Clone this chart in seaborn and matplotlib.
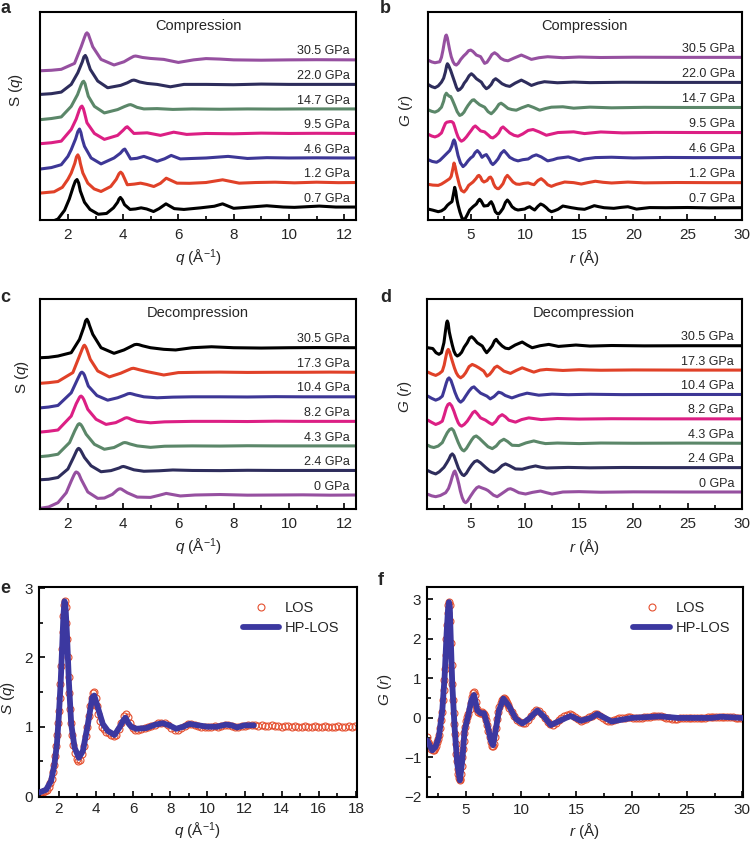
import numpy as np
import pandas as pd
import matplotlib
matplotlib.use("Agg")
import matplotlib.pyplot as plt
import seaborn as sns
from matplotlib.ticker import MultipleLocator

# structure factor S(q) and pair distribution G(r) under compression / decompression

PURPLE = "#9650a0"
NAVY = "#2e2d5c"
GREEN = "#5b8769"
PINK = "#dc1f84"
BLUE = "#3d3796"
RED = "#e04128"
BLACK = "#000000"
LOS_RED = "#e5502f"
HP_BLUE = "#3c38a0"

comp_labels = ["0.7 GPa", "1.2 GPa", "4.6 GPa", "9.5 GPa", "14.7 GPa", "22.0 GPa", "30.5 GPa"]
comp_colors = [BLACK, RED, BLUE, PINK, GREEN, NAVY, PURPLE]
decomp_labels = ["0 GPa", "2.4 GPa", "4.3 GPa", "8.2 GPa", "10.4 GPa", "17.3 GPa", "30.5 GPa"]
decomp_colors = [PURPLE, NAVY, GREEN, PINK, BLUE, RED, BLACK]

# ---- panel a: S(q), compression ----
q_a_07 = [1.0, 1.4, 1.64, 1.88, 2.05, 2.2, 2.27, 2.33, 2.39, 2.45, 2.6, 2.8, 3.1, 3.4, 3.65, 3.8, 3.85, 3.9, 3.97,
          4.05, 4.25, 4.45, 4.65, 4.85, 5.1, 5.3, 5.55, 5.85, 6.2, 6.8, 7.3, 7.6, 8.0, 8.6, 9.2, 9.8, 10.2, 11.1,
          11.7, 12.43]
s_a_07 = [0.06, 0.08, 0.25, 0.8, 1.5, 2.3, 2.62, 2.72, 2.5, 2.0, 1.3, 0.85, 0.55, 0.6, 0.95, 1.3, 1.5, 1.6, 1.45,
          1.15, 0.85, 0.88, 0.95, 0.88, 0.72, 0.9, 1.2, 0.9, 0.85, 0.95, 1.05, 1.2, 0.92, 1.0, 1.08, 1.0, 0.98, 1.06,
          1.0, 1.0]
q_a_12 = [1.0, 1.5, 1.8, 2.0, 2.12, 2.25, 2.31, 2.36, 2.41, 2.45, 2.54, 2.72, 2.95, 3.2, 3.55, 3.75, 3.85, 3.91,
          3.97, 4.05, 4.15, 4.4, 4.63, 4.85, 5.11, 5.35, 5.56, 5.95, 6.4, 7.0, 7.6, 8.2, 8.8, 9.5, 10.2, 11.0, 11.8,
          12.43]
s_a_12 = [0.34, 0.42, 0.7, 1.2, 1.59, 2.2, 2.6, 2.73, 2.55, 2.2, 1.6, 0.96, 0.6, 0.44, 0.75, 1.2, 1.55, 1.65, 1.55,
          1.25, 0.86, 0.9, 0.96, 0.88, 0.75, 0.95, 1.27, 0.96, 0.95, 1.0, 1.17, 0.96, 1.0, 1.02, 0.98, 1.02, 0.99,
          1.0]
q_a_46 = [1.0, 1.4, 1.76, 2.0, 2.12, 2.28, 2.36, 2.42, 2.47, 2.52, 2.6, 2.84, 3.2, 3.67, 3.9, 4.0, 4.06, 4.15,
          4.27, 4.5, 4.75, 5.0, 5.23, 5.5, 5.74, 6.07, 6.5, 7.0, 7.8, 8.5, 9.2, 10.0, 11.0, 12.0, 12.43]
s_a_46 = [0.31, 0.4, 0.58, 1.1, 1.52, 2.2, 2.65, 2.81, 2.6, 2.2, 1.73, 1.0, 0.63, 1.0, 1.3, 1.5, 1.56, 1.3, 0.94,
          0.98, 1.1, 0.95, 0.79, 0.95, 1.16, 0.94, 0.97, 1.0, 1.1, 0.97, 1.02, 1.0, 1.01, 1.0, 1.0]
q_a_95 = [1.0, 1.4, 1.76, 2.12, 2.3, 2.42, 2.47, 2.51, 2.56, 2.6, 2.69, 2.96, 3.32, 3.8, 4.0, 4.1, 4.15, 4.22,
          4.39, 4.87, 5.35, 5.83, 6.3, 7.0, 8.0, 9.0, 10.0, 11.0, 12.43]
s_a_95 = [0.36, 0.42, 0.52, 1.25, 1.9, 2.5, 2.66, 2.71, 2.55, 2.3, 1.67, 1.0, 0.63, 0.88, 1.2, 1.38, 1.42, 1.3,
          1.0, 1.04, 0.88, 1.08, 0.94, 1.0, 0.98, 1.02, 1.0, 1.01, 1.0]
q_a_147 = [1.0, 1.4, 1.76, 2.12, 2.35, 2.48, 2.53, 2.57, 2.62, 2.66, 2.74, 2.96, 3.32, 3.8, 4.05, 4.2, 4.27, 4.35,
           4.5, 4.75, 5.23, 5.8, 6.5, 7.5, 8.5, 9.5, 10.5, 11.5, 12.43]
s_a_147 = [0.33, 0.4, 0.5, 1.16, 1.9, 2.5, 2.68, 2.73, 2.58, 2.3, 1.79, 1.16, 0.75, 0.96, 1.15, 1.25, 1.27, 1.22,
           1.1, 1.0, 1.02, 0.97, 1.0, 0.98, 1.0, 0.99, 1.0, 1.0, 1.0]
q_a_220 = [1.0, 1.4, 1.76, 2.12, 2.36, 2.52, 2.58, 2.63, 2.68, 2.72, 2.81, 3.08, 3.44, 3.91, 4.15, 4.32, 4.39, 4.46,
           4.6, 4.87, 5.23, 5.71, 6.2, 7.0, 8.0, 9.0, 10.0, 11.0, 12.43]
s_a_220 = [0.375, 0.42, 0.52, 1.0, 1.73, 2.4, 2.72, 2.81, 2.65, 2.4, 1.94, 1.21, 0.79, 0.94, 1.1, 1.25, 1.27, 1.24,
           1.15, 1.06, 1.0, 0.85, 1.0, 1.0, 0.98, 1.02, 1.0, 1.0, 1.0]
q_a_305 = [1.0, 1.4, 1.76, 2.24, 2.48, 2.6, 2.65, 2.69, 2.74, 2.78, 2.9, 3.2, 3.67, 4.03, 4.25, 4.38, 4.45, 4.52,
           4.7, 4.99, 5.47, 6.0, 6.55, 7.0, 7.5, 8.0, 9.0, 10.0, 11.0, 12.43]
s_a_305 = [0.32, 0.35, 0.41, 0.78, 1.82, 2.4, 2.62, 2.69, 2.6, 2.4, 1.82, 1.03, 0.68, 0.88, 1.1, 1.22, 1.24, 1.22,
           1.15, 1.09, 1.03, 0.84, 1.0, 1.08, 1.05, 1.0, 0.98, 1.0, 1.01, 1.0]

# ---- panel b: G(r), compression ----
r_b_07 = [1.06, 1.5, 2.0, 2.3, 2.6, 2.85, 3.06, 3.27, 3.4, 3.52, 3.62, 3.72, 3.83, 4.0, 4.2, 4.44, 4.65, 4.9, 5.21,
          5.52, 5.7, 5.82, 5.95, 6.22, 6.58, 6.75, 6.89, 7.05, 7.27, 7.45, 7.58, 7.75, 7.98, 8.2, 8.38, 8.55, 8.81,
          9.1, 9.36, 9.7, 9.98, 10.2, 10.44, 10.65, 10.9, 11.2, 11.45, 11.7, 11.98, 12.2, 12.44, 12.7, 13.05, 13.5,
          14.3, 14.9, 15.5, 16.0, 16.4, 16.8, 17.3, 18.2, 18.9, 19.5, 20.3, 21.5, 23.0, 25.0, 27.0, 30.0]
g_b_07 = [-0.19, -0.35, -0.57, -0.45, -0.14, 0.35, 0.63, 0.86, 1.9, 2.91, 2.3, 1.2, 0.39, -0.6, -1.51, -1.7, -1.1,
          -0.33, 0.14, 0.53, 1.0, 1.2, 1.0, 0.24, 0.31, 0.65, 0.86, 0.4, -0.57, -0.85, -0.9, -0.6, -0.09, 0.75, 1.1,
          0.8, 0.14, -0.2, -0.33, -0.25, -0.19, 0.0, 0.14, -0.1, -0.33, 0.2, 0.53, 0.35, 0.0, -0.35, -0.57, -0.45,
          -0.23, 0.24, 0.0, -0.15, -0.23, 0.05, 0.29, 0.15, 0.0, -0.09, 0.05, 0.14, -0.2, 0.02, 0.0, 0.03, -0.02, 0.0]
r_b_12 = [1.06, 1.5, 2.0, 2.3, 2.6, 2.85, 3.06, 3.2, 3.34, 3.46, 3.56, 3.66, 3.77, 3.95, 4.14, 4.38, 4.6, 4.81, 5.21,
          5.5, 5.65, 5.76, 5.9, 6.05, 6.22, 6.5, 6.7, 6.83, 6.98, 7.12, 7.27, 7.45, 7.58, 7.75, 7.98, 8.2, 8.38, 8.55,
          8.9, 9.2, 9.5, 9.9, 10.3, 10.6, 10.84, 11.2, 11.5, 11.8, 12.1, 12.44, 12.9, 13.67, 14.5, 15.2, 15.8, 16.5,
          17.2, 18.0, 19.5, 21.0, 24.0, 27.0, 30.0]
g_b_12 = [-0.24, -0.35, -0.39, -0.2, 0.09, 0.35, 0.57, 0.9, 1.9, 2.8, 2.3, 1.5, 0.8, -0.3, -1.1, -1.34, -0.95,
          -0.39, 0.09, 0.6, 0.95, 1.04, 0.8, 0.3, 0.09, 0.3, 0.72, 0.8, 0.45, -0.2, -0.63, -0.85, -0.86, -0.6, -0.14,
          0.7, 1.04, 0.75, 0.09, -0.2, -0.24, -0.1, -0.04, -0.2, -0.29, 0.3, 0.57, 0.2, -0.3, -0.53, -0.25, 0.09,
          0.0, -0.2, 0.0, 0.2, 0.05, -0.05, 0.08, -0.03, 0.02, 0.0, 0.0]
r_b_46 = [1.06, 1.45, 1.85, 2.15, 2.44, 2.8, 3.06, 3.25, 3.38, 3.46, 3.56, 3.7, 3.83, 4.05, 4.29, 4.5, 4.75, 5.0,
          5.21, 5.4, 5.61, 5.82, 6.04, 6.25, 6.44, 6.7, 6.88, 7.04, 7.25, 7.52, 7.8, 8.07, 8.3, 8.6, 9.0, 9.36, 9.8,
          10.3, 10.7, 11.05, 11.5, 12.1, 12.6, 13.0, 14.0, 14.6, 15.0, 15.5, 16.5, 18.0, 20.0, 23.0, 26.0, 30.0]
g_b_46 = [-0.29, -0.55, -0.67, -0.4, 0.04, 0.6, 1.0, 1.6, 2.3, 2.53, 2.2, 1.2, 0.29, -0.75, -1.29, -1.0, -0.47,
          -0.05, 0.19, 0.7, 1.0, 0.65, 0.04, 0.3, 0.43, -0.2, -0.75, -1.0, -0.7, -0.19, 0.6, 1.0, 0.6, 0.04, -0.3,
          -0.47, -0.3, -0.2, 0.2, 0.39, 0.1, -0.47, -0.3, -0.1, 0.1, -0.2, -0.43, -0.2, 0.0, 0.05, -0.05, 0.02, 0.0,
          0.0]
r_b_95 = [1.06, 1.4, 1.7, 2.0, 2.3, 2.5, 2.66, 2.8, 2.95, 3.1, 3.25, 3.4, 3.52, 3.68, 3.83, 4.0, 4.14, 4.35, 4.6,
          4.85, 5.06, 5.25, 5.42, 5.6, 5.91, 6.28, 6.64, 6.85, 7.04, 7.3, 7.58, 7.8, 7.98, 8.2, 8.6, 9.0, 9.36, 9.8,
          10.3, 10.75, 11.3, 11.98, 12.5, 13.05, 14.5, 15.5, 17.0, 19.0, 22.0, 26.0, 30.0]
g_b_95 = [-0.24, -0.5, -0.63, -0.45, -0.06, 0.7, 1.29, 1.48, 1.52, 1.57, 1.55, 1.36, 0.8, 0.0, -0.63, -1.05, -1.24,
          -1.05, -0.63, -0.1, 0.33, 0.75, 0.94, 0.7, 0.23, 0.09, -0.39, -0.7, -0.77, -0.5, -0.06, 0.6, 0.8, 0.5,
          -0.06, -0.4, -0.53, -0.2, 0.3, 0.43, 0.1, -0.39, -0.2, 0.0, 0.1, -0.15, 0.08, -0.05, 0.02, 0.0, 0.0]
r_b_147 = [1.06, 1.4, 1.7, 2.0, 2.3, 2.5, 2.62, 2.75, 2.88, 3.02, 3.15, 3.3, 3.52, 3.75, 3.98, 4.18, 4.38, 4.55,
           4.75, 5.0, 5.15, 5.3, 5.5, 5.82, 6.28, 6.6, 6.89, 7.1, 7.35, 7.6, 7.8, 8.05, 8.44, 8.8, 9.2, 9.7, 10.3,
           10.8, 11.36, 11.9, 12.44, 13.5, 14.5, 16.0, 18.0, 21.0, 25.0, 30.0]
g_b_147 = [-0.33, -0.55, -0.67, -0.45, 0.04, 0.9, 1.7, 2.04, 1.8, 1.6, 1.57, 1.1, 0.29, -0.6, -1.14, -1.0, -0.67,
           -0.2, 0.29, 0.8, 1.05, 1.1, 0.8, 0.39, 0.04, -0.6, -0.9, -0.6, -0.14, 0.45, 0.61, 0.35, -0.14, -0.3,
           -0.39, -0.05, 0.29, 0.0, -0.39, -0.15, 0.04, 0.1, -0.1, 0.05, -0.05, 0.02, 0.0, 0.0]
r_b_220 = [1.06, 1.4, 1.7, 2.0, 2.3, 2.5, 2.66, 2.78, 2.85, 2.95, 3.15, 3.35, 3.52, 3.68, 3.83, 4.0, 4.2, 4.4, 4.6,
           4.85, 5.06, 5.25, 5.52, 5.98, 6.2, 6.44, 6.65, 6.89, 7.1, 7.3, 7.55, 7.89, 8.25, 8.6, 9.1, 9.67, 10.1,
           10.6, 11.2, 11.8, 13.0, 14.5, 16.0, 19.0, 23.0, 30.0]
g_b_220 = [-0.29, -0.6, -0.76, -0.5, 0.04, 0.6, 1.47, 2.4, 2.67, 2.45, 1.71, 0.8, 0.04, -0.7, -1.14, -1.0, -0.67,
           -0.1, 0.29, 0.95, 1.24, 1.0, 0.53, 0.04, -0.5, -0.9, -0.7, -0.29, 0.3, 0.53, 0.25, -0.19, -0.45, -0.57,
           -0.1, 0.33, 0.0, -0.43, -0.1, 0.1, -0.05, 0.05, -0.03, 0.02, 0.0, 0.0]
r_b_305 = [1.06, 1.4, 1.7, 2.14, 2.3, 2.44, 2.58, 2.68, 2.75, 2.84, 2.95, 3.06, 3.2, 3.37, 3.52, 3.67, 3.85, 4.08,
           4.35, 4.6, 4.8, 5.0, 5.2, 5.52, 5.91, 6.1, 6.28, 6.5, 6.74, 6.95, 7.2, 7.45, 7.77, 8.1, 8.44, 9.0, 9.67,
           10.1, 10.6, 11.3, 12.1, 13.5, 15.0, 17.0, 20.0, 25.0, 30.0]
g_b_305 = [-0.39, -0.65, -0.77, -0.63, 0.0, 1.04, 2.3, 3.05, 3.19, 2.8, 1.9, 1.04, 0.1, -0.63, -1.0, -1.1, -0.85,
           -0.29, 0.2, 0.57, 0.95, 1.04, 0.85, 0.33, 0.1, -0.4, -0.86, -0.7, -0.14, 0.4, 0.66, 0.4, -0.14, -0.4,
           -0.49, -0.1, 0.33, 0.05, -0.29, -0.05, 0.09, -0.05, 0.05, -0.02, 0.02, 0.0, 0.0]

# ---- panel c: S(q), decompression ----
q_c_0 = [1.0, 1.3, 1.64, 1.94, 2.12, 2.22, 2.27, 2.3, 2.35, 2.4, 2.48, 2.72, 3.08, 3.32, 3.61, 3.78, 3.84, 3.89,
         3.94, 4.0, 4.15, 4.51, 4.99, 5.3, 5.56, 6.07, 6.6, 7.5, 8.5, 9.5, 10.5, 11.5, 12.43]
s_c_0 = [0.17, 0.25, 0.52, 1.14, 1.87, 2.25, 2.4, 2.44, 2.4, 2.3, 1.98, 1.19, 0.79, 0.81, 1.04, 1.3, 1.37, 1.39,
         1.37, 1.3, 1.14, 0.87, 0.85, 0.98, 1.1, 0.94, 1.0, 1.03, 0.99, 1.0, 1.01, 0.99, 1.0]
q_c_24 = [1.0, 1.3, 1.64, 2.0, 2.2, 2.32, 2.36, 2.39, 2.43, 2.48, 2.6, 2.84, 3.2, 3.56, 3.85, 3.95, 4.01, 4.08, 4.2,
          4.39, 4.75, 5.3, 5.8, 6.5, 7.5, 8.5, 9.5, 10.5, 11.5, 12.43]
s_c_24 = [0.42, 0.45, 0.56, 1.09, 1.8, 2.25, 2.35, 2.38, 2.33, 2.2, 1.81, 1.29, 0.92, 0.99, 1.15, 1.23, 1.25, 1.22,
          1.15, 1.04, 0.95, 0.98, 1.03, 1.0, 0.99, 1.01, 1.0, 1.0, 1.0, 1.0]
q_c_43 = [1.0, 1.3, 1.64, 2.06, 2.25, 2.36, 2.39, 2.42, 2.47, 2.52, 2.66, 2.96, 3.32, 3.67, 3.9, 4.0, 4.06, 4.13,
          4.25, 4.51, 4.99, 5.5, 6.5, 7.5, 8.5, 9.5, 10.5, 11.5, 12.43]
s_c_43 = [0.33, 0.38, 0.48, 1.21, 1.95, 2.32, 2.37, 2.39, 2.33, 2.2, 1.73, 1.1, 0.79, 0.9, 1.1, 1.19, 1.21, 1.19,
          1.12, 1.0, 0.91, 0.98, 1.0, 0.99, 1.01, 1.0, 1.0, 1.0, 1.0]
q_c_82 = [1.0, 1.3, 1.64, 2.12, 2.3, 2.42, 2.45, 2.48, 2.53, 2.58, 2.72, 3.02, 3.38, 3.73, 3.95, 4.06, 4.13, 4.2,
          4.3, 4.51, 4.99, 5.5, 6.5, 7.5, 8.5, 9.5, 10.5, 11.5, 12.43]
s_c_82 = [0.33, 0.38, 0.46, 1.33, 2.1, 2.5, 2.56, 2.58, 2.5, 2.35, 1.75, 1.13, 0.81, 0.92, 1.1, 1.2, 1.23, 1.2,
          1.12, 1.0, 0.91, 0.97, 1.0, 1.0, 0.99, 1.01, 1.0, 1.0, 1.0]
q_c_104 = [1.0, 1.3, 1.64, 2.12, 2.35, 2.45, 2.48, 2.51, 2.56, 2.6, 2.74, 3.05, 3.44, 3.8, 4.05, 4.17, 4.25, 4.33,
           4.45, 4.75, 5.23, 5.8, 6.5, 7.5, 8.5, 9.5, 10.5, 11.5, 12.43]
s_c_104 = [0.31, 0.36, 0.46, 1.25, 2.1, 2.45, 2.52, 2.54, 2.47, 2.35, 1.67, 1.08, 0.79, 0.94, 1.1, 1.19, 1.21, 1.18,
           1.12, 1.0, 0.94, 0.98, 1.0, 1.0, 0.99, 1.01, 1.0, 1.0, 1.0]
q_c_173 = [1.0, 1.3, 1.64, 2.18, 2.42, 2.53, 2.57, 2.6, 2.64, 2.68, 2.81, 3.08, 3.5, 3.91, 4.15, 4.3, 4.37, 4.45,
           4.6, 4.87, 5.47, 6.0, 6.8, 7.5, 8.5, 9.5, 10.5, 11.5, 12.43]
s_c_173 = [0.31, 0.35, 0.42, 0.98, 2.02, 2.5, 2.65, 2.69, 2.6, 2.45, 1.81, 1.08, 0.71, 0.94, 1.12, 1.23, 1.25, 1.22,
           1.15, 1.04, 0.83, 0.98, 1.0, 1.01, 0.99, 1.0, 1.0, 1.01, 1.0]
q_c_305 = [1.0, 1.3, 1.64, 2.12, 2.42, 2.58, 2.64, 2.69, 2.74, 2.78, 2.9, 3.2, 3.67, 4.03, 4.25, 4.41, 4.49, 4.57,
           4.7, 4.99, 5.47, 5.9, 6.5, 7.2, 8.0, 9.0, 10.0, 11.0, 12.43]
s_c_305 = [0.375, 0.4, 0.48, 0.69, 1.52, 2.3, 2.68, 2.78, 2.62, 2.4, 1.84, 1.0, 0.65, 0.86, 1.05, 1.19, 1.21, 1.19,
           1.12, 1.0, 0.9, 0.86, 1.0, 1.06, 1.0, 0.98, 1.0, 1.01, 1.0]

# ---- panel d: G(r), decompression ----
r_d_0 = [1.05, 1.4, 1.77, 2.2, 2.69, 2.95, 3.14, 3.3, 3.45, 3.54, 3.65, 3.78, 3.91, 4.05, 4.22, 4.38, 4.53, 4.7,
         4.99, 5.3, 5.55, 5.75, 6.0, 6.37, 6.6, 6.83, 7.1, 7.44, 7.8, 8.21, 8.45, 8.67, 8.95, 9.44, 10.06, 10.7,
         11.44, 12.0, 12.5, 13.0, 13.5, 15.0, 17.0, 20.0, 25.0, 30.0]
g_d_0 = [-0.33, -0.55, -0.67, -0.5, -0.1, 0.5, 1.33, 2.2, 2.85, 3.0, 2.6, 1.9, 1.1, 0.1, -0.81, -1.35, -1.53, -1.3,
         -0.57, 0.14, 0.6, 0.76, 0.6, 0.39, 0.2, -0.1, -0.45, -0.67, -0.3, 0.14, 0.4, 0.47, 0.3, -0.1, -0.29, -0.05,
         0.14, -0.1, -0.29, -0.15, 0.0, 0.05, -0.03, 0.02, 0.0, 0.0]
r_d_24 = [1.05, 1.4, 1.77, 2.1, 2.53, 2.8, 3.0, 3.15, 3.3, 3.45, 3.67, 3.87, 4.07, 4.22, 4.38, 4.6, 4.84, 5.1, 5.35,
          5.6, 5.9, 6.37, 6.75, 7.14, 7.5, 7.9, 8.21, 8.55, 9.13, 9.75, 10.4, 10.98, 11.5, 12.0, 14.0, 16.0, 19.0,
          23.0, 30.0]
g_d_24 = [-0.43, -0.7, -0.9, -0.6, 0.04, 0.7, 1.24, 1.75, 1.96, 1.7, 0.76, -0.1, -0.67, -1.0, -1.14, -0.8, -0.19,
          0.4, 0.85, 1.0, 0.7, 0.04, -0.45, -0.67, -0.3, 0.3, 0.53, 0.3, -0.19, -0.23, 0.05, 0.24, 0.05, -0.05, 0.03,
          -0.03, 0.02, 0.0, 0.0]
r_d_43 = [1.05, 1.3, 1.6, 2.0, 2.38, 2.6, 2.84, 3.05, 3.24, 3.42, 3.61, 3.85, 4.07, 4.22, 4.38, 4.6, 4.84, 5.1, 5.3,
          5.51, 5.8, 6.2, 6.6, 6.99, 7.35, 7.7, 8.06, 8.4, 8.82, 9.44, 10.1, 10.82, 11.4, 11.9, 13.0, 15.0, 17.0,
          20.0, 25.0, 30.0]
g_d_43 = [-0.29, -0.5, -0.61, -0.4, 0.09, 0.8, 1.51, 1.95, 2.09, 1.8, 1.04, 0.1, -0.63, -0.95, -1.1, -0.75, -0.14,
          0.5, 0.9, 1.04, 0.7, 0.09, -0.5, -0.77, -0.4, 0.25, 0.57, 0.25, -0.29, -0.33, 0.05, 0.33, 0.1, -0.05, 0.03,
          -0.05, 0.03, 0.0, 0.02, 0.0]
r_d_82 = [1.05, 1.4, 1.77, 2.1, 2.38, 2.55, 2.75, 2.9, 3.06, 3.25, 3.45, 3.65, 3.85, 4.0, 4.16, 4.4, 4.68, 4.95, 5.2,
          5.39, 5.6, 5.91, 6.37, 6.7, 6.99, 7.3, 7.6, 7.9, 8.2, 8.52, 9.13, 9.7, 10.36, 11.5, 13.0, 15.0, 18.0, 22.0,
          30.0]
g_d_82 = [-0.19, -0.5, -0.8, -0.6, -0.33, 0.5, 1.57, 2.05, 2.2, 1.85, 1.1, 0.2, -0.57, -0.9, -1.04, -0.8, -0.33,
          0.3, 0.9, 1.1, 0.75, 0.14, -0.19, -0.55, -0.8, -0.4, 0.3, 0.6, 0.3, -0.19, -0.47, -0.1, 0.14, -0.1, 0.05,
          -0.03, 0.02, 0.0, 0.0]
r_d_104 = [1.05, 1.4, 1.77, 2.1, 2.38, 2.55, 2.75, 2.88, 3.0, 3.18, 3.36, 3.55, 3.76, 3.92, 4.07, 4.3, 4.53, 4.85,
           5.1, 5.3, 5.55, 5.91, 6.5, 6.8, 7.15, 7.57, 7.85, 8.18, 8.8, 9.5, 10.2, 11.28, 12.5, 14.0, 16.0, 19.0,
           23.0, 30.0]
g_d_104 = [-0.24, -0.55, -0.81, -0.6, -0.24, 0.6, 1.66, 2.2, 2.37, 2.0, 1.19, 0.3, -0.49, -0.9, -1.1, -0.8, -0.24,
           0.5, 0.95, 1.09, 0.7, 0.19, -0.24, -0.63, -0.3, 0.33, 0.2, -0.14, -0.49, -0.1, 0.19, -0.1, 0.05, -0.03,
           0.03, -0.02, 0.0, 0.0]
r_d_173 = [1.05, 1.4, 1.77, 2.1, 2.38, 2.55, 2.69, 2.82, 2.93, 3.05, 3.3, 3.5, 3.67, 3.85, 4.07, 4.3, 4.53, 4.85,
           5.14, 5.45, 5.75, 6.2, 6.5, 6.75, 6.99, 7.2, 7.44, 7.7, 8.06, 8.67, 9.2, 9.75, 10.3, 10.82, 11.4, 12.0,
           13.5, 15.0, 17.0, 20.0, 25.0, 30.0]
g_d_173 = [-0.29, -0.55, -0.76, -0.5, -0.14, 0.7, 1.76, 2.7, 2.96, 2.6, 1.29, 0.3, -0.39, -0.85, -1.1, -0.85,
           -0.39, 0.5, 0.81, 0.6, 0.33, -0.14, -0.86, -0.6, -0.14, 0.35, 0.57, 0.3, -0.14, -0.47, -0.05, 0.33, 0.0,
           -0.29, 0.0, 0.1, -0.05, 0.05, -0.02, 0.02, 0.0, 0.0]
r_d_305 = [1.05, 1.5, 1.8, 2.07, 2.3, 2.53, 2.68, 2.78, 2.84, 2.92, 3.02, 3.14, 3.3, 3.45, 3.6, 3.76, 3.95, 4.16,
           4.4, 4.68, 4.9, 5.08, 5.3, 5.6, 6.07, 6.28, 6.47, 6.7, 6.99, 7.2, 7.35, 7.55, 7.9, 8.2, 8.52, 9.1, 9.75,
           10.2, 10.67, 11.4, 12.2, 13.1, 14.7, 16.0, 18.0, 21.0, 25.0, 30.0]
g_d_305 = [-0.29, -0.4, -1.0, -1.23, -1.0, 0.43, 2.2, 3.3, 3.53, 3.2, 2.0, 1.14, 0.1, -0.76, -1.25, -1.47, -1.3,
           -0.94, -0.2, 0.43, 1.1, 1.29, 1.0, 0.43, -0.04, -0.6, -1.0, -0.6, 0.0, 0.7, 0.91, 0.5, -0.04, -0.35, -0.43,
           0.1, 0.53, 0.1, -0.29, 0.0, 0.19, -0.1, 0.1, -0.05, 0.03, -0.02, 0.0, 0.0]

# ---- panel e: S(q) of LOS (circles) and HP-LOS (line) ----
q_los = [0.95, 1.05, 1.15, 1.25, 1.35, 1.45, 1.55, 1.62, 1.69, 1.76, 1.82, 1.87, 1.92, 1.97, 2.01, 2.05, 2.09, 2.13,
         2.17, 2.21, 2.25, 2.29, 2.33, 2.37, 2.41, 2.45, 2.49, 2.53, 2.57, 2.61, 2.66, 2.72, 2.79, 2.87, 2.96, 3.06,
         3.16, 3.26, 3.36, 3.45, 3.54, 3.62, 3.7, 3.77, 3.84, 3.91, 3.98, 4.05, 4.13, 4.22, 4.32, 4.43, 4.55, 4.68,
         4.82, 4.96, 5.1, 5.24, 5.37, 5.49, 5.6, 5.71, 5.83, 5.97, 6.12, 6.28, 6.45, 6.62, 6.8, 6.98, 7.16, 7.34,
         7.52, 7.7, 7.88, 8.06, 8.24, 8.42, 8.6, 8.78, 8.96, 9.14, 9.32, 9.5, 9.68, 9.86, 10.04, 10.22, 10.4, 10.58,
         10.76, 10.94, 11.12, 11.3, 11.48, 11.66, 11.84, 12.02, 12.2, 12.38, 12.56, 12.74, 12.92, 13.1, 13.28, 13.46,
         13.64, 13.82, 14.0, 14.18, 14.36, 14.54, 14.72, 14.9, 15.08, 15.26, 15.44, 15.62, 15.8, 15.98, 16.16, 16.34,
         16.52, 16.7, 16.88, 17.06, 17.24, 17.42, 17.6, 17.78, 17.96]
s_los = [0.05, 0.05, 0.06, 0.07, 0.09, 0.13, 0.19, 0.25, 0.34, 0.45, 0.58, 0.72, 0.88, 1.05, 1.22, 1.42, 1.62, 1.88,
         2.12, 2.36, 2.6, 2.76, 2.82, 2.72, 2.5, 2.26, 2.0, 1.72, 1.48, 1.26, 1.05, 0.88, 0.74, 0.62, 0.54, 0.5,
         0.52, 0.6, 0.72, 0.86, 1.0, 1.15, 1.3, 1.42, 1.49, 1.5, 1.42, 1.3, 1.18, 1.08, 1.0, 0.96, 0.93, 0.91,
         0.88, 0.86, 0.88, 0.96, 1.06, 1.15, 1.19, 1.14, 1.05, 0.98, 0.95, 0.95, 0.96, 0.98, 0.99, 1.01, 1.03, 1.05,
         1.06, 1.05, 1.02, 0.98, 0.95, 0.95, 0.98, 1.01, 1.04, 1.04, 1.02, 1.01, 1.0, 0.99, 0.99, 1.0, 1.01, 1.0,
         1.01, 1.02, 1.02, 1.01, 1.0, 1.0, 1.01, 1.01, 1.02, 1.02, 1.02, 1.01, 1.02, 1.01, 1.01, 1.02,
         1.01, 1.01, 1.0, 1.01, 1.01, 1.0, 1.01, 1.0, 1.0, 1.01, 1.0, 1.0, 1.01, 1.0, 1.0, 1.01,
         1.0, 1.0, 1.0, 1.01, 1.0, 1.0, 1.01, 1.0, 1.01]
q_hp = [0.95, 1.32, 1.59, 1.77, 1.9, 2.0, 2.1, 2.19, 2.25, 2.31, 2.37, 2.44, 2.55, 2.67, 2.85, 3.08, 3.3, 3.57, 3.8,
        3.91, 4.1, 4.37, 4.64, 5.0, 5.27, 5.45, 5.59, 5.75, 5.9, 6.17, 6.7, 7.2, 7.6, 7.95, 8.32, 8.7, 9.04, 9.5,
        10.0, 10.5, 11.0, 11.3, 11.6, 12.0, 12.5]
s_hp = [0.05, 0.09, 0.22, 0.46, 0.75, 1.14, 1.62, 2.19, 2.6, 2.81, 2.7, 2.34, 1.62, 1.04, 0.7, 0.55, 0.65, 1.04,
        1.42, 1.45, 1.28, 1.04, 0.94, 0.88, 0.99, 1.08, 1.13, 1.05, 1.0, 0.97, 0.98, 1.03, 1.05, 1.02, 0.97, 1.0,
        1.04, 1.02, 1.0, 1.0, 1.03, 1.02, 0.99, 1.02, 1.02]

# ---- panel f: G(r) of LOS (circles) and HP-LOS (line) ----
r_los = [1.5, 1.6, 1.7, 1.8, 1.9, 2.0, 2.1, 2.2, 2.3, 2.4, 2.5, 2.6, 2.7, 2.78, 2.86, 2.93, 3.0, 3.06, 3.12, 3.18,
         3.24, 3.3, 3.36, 3.42, 3.48, 3.54, 3.6, 3.66, 3.72, 3.78, 3.84, 3.9, 3.96, 4.02, 4.08, 4.14, 4.2, 4.26,
         4.32, 4.38, 4.44, 4.5, 4.56, 4.62, 4.68, 4.74, 4.8, 4.88, 4.96, 5.05, 5.15, 5.25, 5.35, 5.45, 5.55, 5.65,
         5.75, 5.85, 5.95, 6.05, 6.15, 6.25, 6.35, 6.45, 6.55, 6.65, 6.75, 6.85, 6.95, 7.05, 7.15, 7.25, 7.35, 7.45,
         7.55, 7.65, 7.75, 7.85, 7.95, 8.05, 8.15, 8.25, 8.35, 8.45, 8.55, 8.65, 8.75, 8.85, 8.95, 9.15, 9.4, 9.65,
         9.9, 10.15, 10.4, 10.65, 10.9, 11.15, 11.4, 11.65, 11.9, 12.15, 12.4, 12.65, 12.9, 13.15, 13.4, 13.65,
         13.9, 14.15, 14.4, 14.65, 14.9, 15.15, 15.4, 15.65, 15.9, 16.15, 16.4, 16.65, 16.9, 17.15, 17.4, 17.65,
         17.9, 18.15, 18.4, 18.65, 18.9, 19.15, 19.4, 19.65, 19.9, 20.15, 20.4, 20.65, 20.9, 21.15, 21.4, 21.65,
         21.9, 22.15, 22.4, 22.65, 22.9, 23.15, 23.4, 23.65, 23.9, 24.15, 24.4, 24.65, 24.9, 25.15, 25.4, 25.65,
         25.9, 26.15, 26.4, 26.65, 26.9, 27.15, 27.4, 27.65, 27.9, 28.15, 28.4, 28.65, 28.9, 29.15, 29.4, 29.65,
         29.9]
g_los = [-0.48, -0.6, -0.66, -0.72, -0.78, -0.82, -0.8, -0.75, -0.7, -0.62, -0.54, -0.44, -0.25, -0.05, 0.15, 0.45,
         0.7, 0.95, 1.25, 1.6, 2.0, 2.35, 2.65, 2.85, 2.93, 2.85, 2.45, 1.9, 1.35, 0.85, 0.45, 0.12, -0.15, -0.4,
         -0.65, -0.9, -1.1, -1.28, -1.42, -1.52, -1.57, -1.55, -1.42, -1.22, -1.0, -0.78, -0.58, -0.38, -0.22,
         -0.08, 0.02, 0.1, 0.22, 0.38, 0.52, 0.62, 0.65, 0.58, 0.4, 0.22, 0.14, 0.12, 0.13, 0.14, 0.13, 0.1, 0.04,
         -0.06, -0.18, -0.32, -0.48, -0.62, -0.7, -0.72, -0.66, -0.48, -0.25, -0.02, 0.15, 0.28, 0.38, 0.45, 0.49,
         0.5, 0.48, 0.44, 0.38, 0.32, 0.26, 0.14, 0.04, -0.04, -0.1, -0.14, -0.12, -0.04, 0.06, 0.14, 0.19, 0.18,
         0.1, 0.0, -0.1, -0.16, -0.17, -0.12, -0.06, 0.0, 0.04, 0.07, 0.09, 0.08, 0.03, -0.03, -0.07, -0.06,
         -0.03, 0.02, 0.06, 0.09, 0.09, 0.05, 0.0, -0.04, -0.07, -0.08, -0.06, -0.03, -0.01, 0.0, 0.01, 0.02, 0.02,
         0.01, 0.0, 0.0, 0.01, 0.02, 0.03, 0.03, 0.04, 0.05, 0.05, 0.05, 0.03, 0.01, -0.01, -0.02, -0.02, -0.02,
         -0.01, -0.01, -0.01, 0.0, -0.01, 0.0, 0.0, 0.01, 0.0, 0.01, 0.02, 0.02, 0.03, 0.03, 0.03, 0.03, 0.02,
         0.02, 0.02, 0.02, 0.01, 0.01, 0.0]
r_hp = [1.52, 1.75, 1.97, 2.27, 2.57, 2.88, 3.09, 3.27, 3.4, 3.48, 3.56, 3.63, 3.78, 3.99, 4.23, 4.47, 4.69, 4.9,
        5.2, 5.5, 5.75, 6.05, 6.35, 6.65, 7.01, 7.26, 7.47, 7.71, 8.01, 8.4, 8.92, 9.52, 10.12, 10.73, 11.48, 12.08,
        12.69, 13.3, 14.05, 14.5, 15.4, 16.3, 16.9, 18.2, 20.0, 22.6, 24.2, 27.2, 28.1, 30.0]
g_hp = [-0.57, -0.7, -0.82, -0.73, -0.48, 0.19, 1.04, 2.13, 2.75, 2.93, 2.8, 2.13, 0.87, -0.23, -1.15, -1.58, -1.07,
        -0.31, 0.03, 0.44, 0.58, 0.19, 0.12, 0.12, -0.23, -0.57, -0.69, -0.31, 0.19, 0.49, 0.3, -0.02, -0.14, -0.02,
        0.19, 0.03, -0.18, -0.1, 0.0, 0.05, -0.07, 0.0, 0.1, -0.09, 0.0, 0.04, 0.0, 0.0, 0.03, 0.0]

sns.set_style("ticks")
plt.rcParams["font.family"] = ["Liberation Sans", "DejaVu Sans"]
plt.rcParams["mathtext.fontset"] = "custom"
plt.rcParams["mathtext.rm"] = "Liberation Sans"
plt.rcParams["mathtext.it"] = "Liberation Sans:italic"
plt.rcParams["mathtext.bf"] = "Liberation Sans:bold"
plt.rcParams["axes.edgecolor"] = "black"
plt.rcParams["axes.linewidth"] = 1.5

W, H = 750, 842


def box(left, top, right, bottom):
    return [left / W, 1 - bottom / H, (right - left) / W, (bottom - top) / H]


def style_axis(ax, major, minor, pad):
    ax.xaxis.set_major_locator(MultipleLocator(major))
    ax.xaxis.set_minor_locator(MultipleLocator(minor))
    ax.tick_params(axis="both", which="both", direction="in", top=False, right=False,
                   labelsize=11, pad=pad, width=1.2, color="black")
    ax.tick_params(axis="both", which="major", length=4)
    ax.tick_params(axis="both", which="minor", length=3)


def stacked(ax, xs, ys, labels, colors, step, base, dy, label_x, title):
    for i, (x, y, lab, c) in enumerate(zip(xs, ys, labels, colors)):
        df = pd.DataFrame({"x": x, "y": np.array(y) + i * step})
        sns.lineplot(data=df, x="x", y="y", ax=ax, color=c, linewidth=2.2,
                     estimator=None, sort=False)
        ax.text(label_x, base + i * step + dy, lab, ha="right", va="bottom", fontsize=9)
    ax.text(0.5, 0.933, title, transform=ax.transAxes, ha="center", va="center", fontsize=10.5)
    ax.set_yticks([])


fig = plt.figure(figsize=(W / 100, H / 100), dpi=100)

ax_a = fig.add_axes(box(40, 12, 356, 220))
ax_b = fig.add_axes(box(427.7, 12, 742, 220))
ax_c = fig.add_axes(box(40, 299.3, 356, 508.7))
ax_d = fig.add_axes(box(426.7, 299.3, 741.7, 508.7))
ax_e = fig.add_axes(box(38.7, 586.7, 356.7, 796.7))
ax_f = fig.add_axes(box(426.7, 586.7, 742.7, 797))

# a
stacked(ax_a, [q_a_07, q_a_12, q_a_46, q_a_95, q_a_147, q_a_220, q_a_305],
        [s_a_07, s_a_12, s_a_46, s_a_95, s_a_147, s_a_220, s_a_305],
        comp_labels, comp_colors, 1.533, 1.0, 0.15, 12.2, "Compression")
ax_a.set_xlim(0.99, 12.43)
ax_a.set_ylim(0.19, 13.19)
style_axis(ax_a, 2, 1, 6)

# b
stacked(ax_b, [r_b_07, r_b_12, r_b_46, r_b_95, r_b_147, r_b_220, r_b_305],
        [g_b_07, g_b_12, g_b_46, g_b_95, g_b_147, g_b_220, g_b_305],
        comp_labels, comp_colors, 3.58, 0.0, 0.35, 29.35, "Compression")
ax_b.set_xlim(1.03, 30.03)
ax_b.set_ylim(-1.757, 27.96)
style_axis(ax_b, 5, 2.5, 6)

# c
stacked(ax_c, [q_c_0, q_c_24, q_c_43, q_c_82, q_c_104, q_c_173, q_c_305],
        [s_c_0, s_c_24, s_c_43, s_c_82, s_c_104, s_c_173, s_c_305],
        decomp_labels, decomp_colors, 1.534, 1.0, 0.15, 12.2, "Decompression")
ax_c.set_xlim(0.99, 12.43)
ax_c.set_ylim(0.144, 13.23)
style_axis(ax_c, 2, 1, 6)

# d
stacked(ax_d, [r_d_0, r_d_24, r_d_43, r_d_82, r_d_104, r_d_173, r_d_305],
        [g_d_0, g_d_24, g_d_43, g_d_82, g_d_104, g_d_173, g_d_305],
        decomp_labels, decomp_colors, 3.483, 0.0, 0.35, 29.3, "Decompression")
ax_d.set_xlim(0.94, 30.0)
ax_d.set_ylim(-2.386, 27.53)
style_axis(ax_d, 5, 2.5, 6)

# e
sns.lineplot(x=q_los, y=s_los, ax=ax_e, estimator=None, sort=False, color=LOS_RED,
             linestyle="none", marker="o", markersize=5, markerfacecolor="none",
             markeredgecolor=LOS_RED, markeredgewidth=0.8, label="LOS", zorder=2)
sns.lineplot(x=q_hp, y=s_hp, ax=ax_e, estimator=None, sort=False, color=HP_BLUE,
             linewidth=4.2, label="HP-LOS", zorder=3)
ax_e.set_xlim(0.92, 18.04)
ax_e.set_ylim(-0.01, 3.02)
style_axis(ax_e, 2, 1, 4)
ax_e.yaxis.set_major_locator(MultipleLocator(1))
ax_e.yaxis.set_minor_locator(MultipleLocator(0.5))
ax_e.legend(loc="upper left", bbox_to_anchor=(0.642, 0.933), frameon=False, borderpad=0,
            borderaxespad=0, handlelength=2.5, handletextpad=0.4, labelspacing=0.45,
            numpoints=1, fontsize=10.5)

# f
sns.lineplot(x=r_los, y=g_los, ax=ax_f, estimator=None, sort=False, color=LOS_RED,
             linestyle="none", marker="o", markersize=5, markerfacecolor="none",
             markeredgecolor=LOS_RED, markeredgewidth=0.8, label="LOS", zorder=2)
sns.lineplot(x=r_hp, y=g_hp, ax=ax_f, estimator=None, sort=False, color=HP_BLUE,
             linewidth=4.2, label="HP-LOS", zorder=3)
ax_f.set_xlim(1.47, 30.05)
ax_f.set_ylim(-2.0, 3.32)
style_axis(ax_f, 5, 2.5, 4)
ax_f.yaxis.set_major_locator(MultipleLocator(1))
ax_f.yaxis.set_minor_locator(MultipleLocator(0.5))
ax_f.legend(loc="upper left", bbox_to_anchor=(0.654, 0.933), frameon=False, borderpad=0,
            borderaxespad=0, handlelength=2.5, handletextpad=0.4, labelspacing=0.45,
            numpoints=1, fontsize=10.5)

# axis labels
qlab = r"$q$ (Å$^{-1}$)"
rlab = r"$r$ (Å)"
for ax, xl, yl, ycoords, xly in [
        (ax_a, qlab, r"S ($q$)", (-0.049, 0.625), -0.135),
        (ax_b, rlab, r"$G$ ($r$)", (-0.039, 0.525), -0.135),
        (ax_c, qlab, r"S ($q$)", (-0.03, 0.63), -0.135),
        (ax_d, rlab, r"$G$ ($r$)", (-0.039, 0.535), -0.135),
        (ax_e, qlab, r"$S$ ($q$)", (-0.067, 0.47), -0.115),
        (ax_f, rlab, r"$G$ ($r$)", (-0.103, 0.51), -0.115)]:
    ax.set_xlabel(xl, fontsize=11)
    ax.set_ylabel(yl, fontsize=11)
    ax.yaxis.set_label_coords(*ycoords)
    ax.xaxis.set_label_coords(0.5, xly)

# panel letters
for letter, x, y in [("a", 0.5, 13.3), ("b", 380, 13.3), ("c", 0.5, 301.7),
                     ("d", 380, 301.7), ("e", 0.5, 593.3), ("f", 378, 585)]:
    fig.text(x / W, 1 - y / H, letter, fontsize=13, fontweight="bold",
             ha="left", va="baseline")

fig.savefig("out.png", dpi=100)
